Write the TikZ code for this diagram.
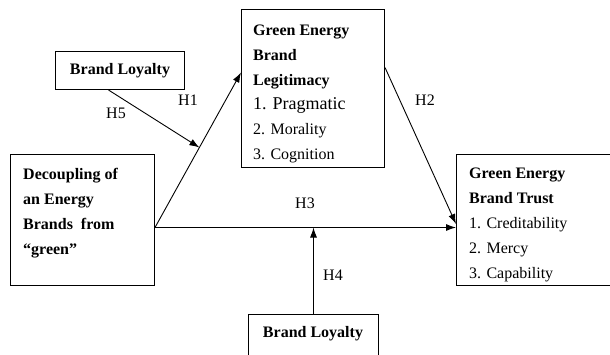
\documentclass[tikz,border=0pt]{standalone}
\usepackage{fontspec}
\setmainfont{Liberation Serif}
\usetikzlibrary{arrows.meta}
\tikzset{
  box/.style={draw, line width=1pt, inner sep=0pt},
  txt/.style={anchor=north west, align=left, inner sep=0pt, font=\fontsize{16}{24.7}\selectfont},
  lbl/.style={inner sep=0pt, font=\fontsize{16}{19}\selectfont},
  link/.style={line width=0.9pt, -{Latex[length=10pt,width=7pt]}}
}

\begin{document}
\begin{tikzpicture}[x=1pt, y=-1pt]
			%%%%% START %%%%%
			\useasboundingbox (0, 0) rectangle (610, 354);
			\clip (0, 0) rectangle (610, 354);
			
			\node[box, anchor=north west, minimum width=129, minimum height=38] (loyTop) at (55, 51) {};
			\node[lbl, font=\fontsize{16}{19}\selectfont\bfseries] (loyTopTxt) at (loyTop) {Brand Loyalty};
			
			\node[box, anchor=north west, minimum width=143, minimum height=158] (leg) at (241, 9) {};
			\node[txt] (legTxt) at (253, 25) {\textbf{Green Energy}\\ \textbf{Brand}\\ \textbf{Legitimacy}\\ {\fontsize{18}{24.7}\selectfont 1. Pragmatic}\\ 2. Morality\\ 3. Cognition};
			
			\node[box, anchor=north west, minimum width=144, minimum height=131] (dec) at (10, 154) {};
			\node[txt, font=\fontsize{16}{24.9}\selectfont\bfseries] (decTxt) at (23, 168) {Decoupling of\\ an Energy\\ Brands\ \ from\\ “green”};
			
			\node[box, anchor=north west, minimum width=180, minimum height=131] (trust) at (456, 154) {};
			\node[txt, font=\fontsize{16}{25}\selectfont] (trustTxt) at (469, 168) {\textbf{Green Energy}\\ \textbf{Brand Trust}\\ 1. Creditability\\ 2. Mercy\\ 3. Capability};
			
			\node[box, anchor=north west, minimum width=130, minimum height=60] (loyBot) at (248, 314) {};
			\node[lbl, font=\fontsize{16}{19}\selectfont\bfseries] (loyBotTxt) at (313, 334) {Brand Loyalty};
			
			%%%%% connectors %%%%%
			\coordinate (decOut) at ([yshift=-7.5pt]dec.east);
			\path (decOut) -- ([yshift=16pt]leg.west) coordinate[pos=0.516] (hOneMid);
			
			\draw[link] (decOut) -- ([yshift=16pt]leg.west);
			\draw[link] ([yshift=21pt]leg.east) -- ([yshift=-4pt]trust.west);
			\draw[link] (decOut) -- ([yshift=-7.5pt]trust.west);
			\draw[link] (loyBot.north) -- (loyBot.north |- decOut);
			\draw[link] ([xshift=-11.5pt]loyTop.south) -- (hOneMid);
			
			\node[lbl] (hOne) at (188, 100) {H1};
			\node[lbl] (hTwo) at (425, 100) {H2};
			\node[lbl] (hThree) at (305, 203) {H3};
			\node[lbl] (hFour) at (333, 275) {H4};
			\node[lbl] (hFive) at (116, 113) {H5};
			%%%%% END %%%%%
\end{tikzpicture}
\end{document}
